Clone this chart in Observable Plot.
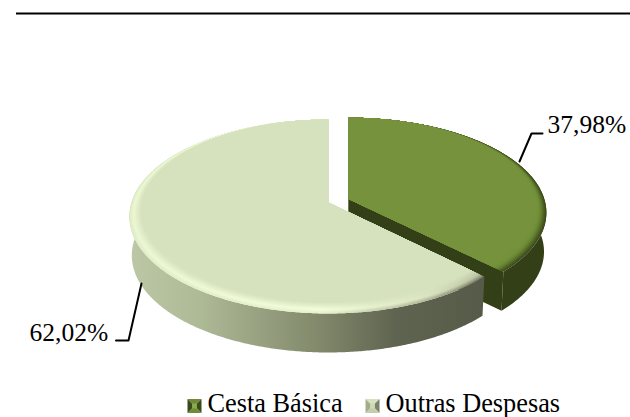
<!DOCTYPE html>
<html lang="pt">
<head>
<meta charset="utf-8">
<script src="https://cdn.jsdelivr.net/npm/d3@7"></script>
<script src="https://cdn.jsdelivr.net/npm/@observablehq/plot@0.6"></script>
<style>
html,body{margin:0;padding:0;background:#fff}
svg{display:block}
</style>
</head>
<body>
<div id="chart"></div>
<script>
const categories = ["Cesta Básica", "Outras Despesas"];
const values = [37.98, 62.02];
const valueLabels = ["37,98%", "62,02%"];

const faceColors = ["#76923c", "#d6e1bd"];
const wallColor = "#333f17";
const FONT = "'Liberation Serif','Times New Roman',serif";

// Perspective view of the pie disc
const view = {a: 95, b: 197, k: 0.144, warp: 3 * Math.PI / 180, depth: 39, bottomScale: 0.988};
const apexBig = {x: 328, y: 202, sx: 1, sy: 1};
const apexSmall = {x: 347.8, y: 198.5, sx: 0.995, sy: 0.98};

const total = d3.sum(values);
const split = values[0] / total * 2 * Math.PI;

function rim(theta, apex) {
  const t = theta - view.warp * Math.sin(theta);
  const u = Math.sin(t), v = Math.cos(t), d = 1 + view.k * v;
  return {x: apex.x + apex.sx * view.b * u / d, y: apex.y - apex.sy * view.a * v / d, theta};
}
function arc(t0, t1, apex) {
  const n = Math.ceil(Math.abs(t1 - t0) / (Math.PI / 360));
  return d3.range(n + 1).map(i => rim(t0 + (t1 - t0) * i / n, apex));
}
function lowered(p, apex) {
  return {x: apex.x + (p.x - apex.x) * view.bottomScale, y: p.y + view.depth};
}
function wall(points, apex) {
  return [...points, ...points.slice().reverse().map(p => lowered(p, apex))];
}
// A slice's face pulled radially towards its apex, most at the front of the disc, which leaves a bevel.
function inset(points, apex, amount) {
  const shrunk = points.map(p => {
    const r = 1 - amount * Math.sin(p.theta / 2) ** 2;
    return {x: apex.x + (p.x - apex.x) * r, y: apex.y + (p.y - apex.y) * r};
  });
  return [apex, ...shrunk];
}

const smallArc = arc(0, split, apexSmall);
const bigArc = arc(split, 2 * Math.PI, apexBig);
const smallCorner = smallArc[smallArc.length - 1];

const polygon = (pts, fill) => Plot.line(pts, {x: "x", y: "y", fill, stroke: "none", curve: "linear"});

const greenRamp = d3.interpolateRgbBasis(["#3d4a1a", "#4f6226", "#64802f", "#70903a", faceColors[0], faceColors[0]]);
const layers = d3.range(16);
const step = i => i / (layers.length - 1);

const defs = () => {
  const d = d3.create("svg:defs");
  const gradient = (id, stops) => {
    const g = d.append("linearGradient").attr("id", id);
    stops.forEach(([o, c]) => g.append("stop").attr("offset", o).attr("stop-color", c));
  };
  gradient("paleWall", [[0, "#bcc7a5"], [0.2, "#aeb996"], [0.55, "#7f8669"], [0.75, "#5f6450"], [1, "#565a48"]]);
  const face = faceColors[1];
  const ramp = (edge, peak) => d3.piecewise(d3.interpolateRgb, [edge, peak, d3.interpolateRgb(peak, face)(0.55), face, face]);
  const left = ramp("#dfecc6", "#ecf8d3"), mid = ramp("#e6f1cd", "#f3fdda"),
        right = ramp("#aab090", "#dce5c3"), end = ramp("#6f755e", "#b9c0a0");
  layers.forEach(i => {
    const t = step(i);
    gradient(`paleRim${i}`, [[0, left(t)], [0.55, mid(t)], [0.85, right(t)], [1, end(t)]]);
  });
  return d.node();
};

const leaderSmall = [{x: 519, y: 161}, {x: 531, y: 133}, {x: 542, y: 133}];
const leaderBig = [{x: 141, y: 283}, {x: 128, y: 340}, {x: 115.5, y: 340}];

function swatch(cx, cy, s, [top, right, bottom, left, centre]) {
  const c = {x: cx, y: cy};
  const a = {x: cx - s, y: cy - s}, b = {x: cx + s, y: cy - s}, e = {x: cx + s, y: cy + s}, f = {x: cx - s, y: cy + s};
  const q = s * 0.35;
  return [
    polygon([c, a, b], top), polygon([c, b, e], right),
    polygon([c, e, f], bottom), polygon([c, f, a], left),
    polygon([{x: cx - q, y: cy - q}, {x: cx + q, y: cy - q}, {x: cx + q, y: cy + q}, {x: cx - q, y: cy + q}], centre)
  ];
}

const textMark = (data, o) => Plot.text(data, {
  x: "x", y: "y", text: "t", fontFamily: FONT, fill: "#000", textAnchor: "start", lineAnchor: "bottom", ...o
});

const chart = Plot.plot({
  width: 630, height: 417,
  margin: 0,
  style: {background: "#fff", overflow: "visible"},
  x: {domain: [0, 630], range: [0, 630], axis: null},
  y: {domain: [0, 417], range: [0, 417], axis: null},
  marks: [
    defs,
    Plot.ruleY([13], {x1: 16, x2: 630, stroke: "#000", strokeWidth: 2}),

    // Cesta Básica: walls, bevel and face
    polygon(wall(smallArc, apexSmall), wallColor),
    polygon(wall([apexSmall, smallCorner], apexSmall), wallColor),
    ...layers.map(i => polygon(inset(smallArc, apexSmall, 0.1 * step(i)), greenRamp(step(i)))),

    // Outras Despesas: wall, bevel and face
    polygon(wall(bigArc, apexBig), "url(#paleWall)"),
    ...layers.map(i => polygon(inset(bigArc, apexBig, 0.13 * step(i)), `url(#paleRim${i})`)),

    // Leaders
    Plot.line(leaderSmall, {x: "x", y: "y", stroke: "#000", strokeWidth: 2, curve: "linear"}),
    Plot.line(leaderBig, {x: "x", y: "y", stroke: "#000", strokeWidth: 2, curve: "linear"}),

    // Value labels
    textMark([{x: 547, y: 132, t: valueLabels[0]}], {fontSize: 25.5}),
    textMark([{x: 29, y: 340, t: valueLabels[1]}], {fontSize: 25.5}),

    // Legend
    ...swatch(194, 405.5, 7, ["#6f8b38", "#3c4a1a", "#6f8b38", "#3c4a1a", "#8dab4e"]),
    ...swatch(372, 405.5, 7, ["#d6e1bd", "#7b816a", "#c4cdac", "#a3ad8c", "#cfd9b5"]),
    textMark([{x: 207, y: 411, t: categories[0]}], {fontSize: 26.3}),
    textMark([{x: 385, y: 411, t: categories[1]}], {fontSize: 26.3})
  ]
});
document.getElementById("chart").append(chart);
</script>
</body>
</html>
